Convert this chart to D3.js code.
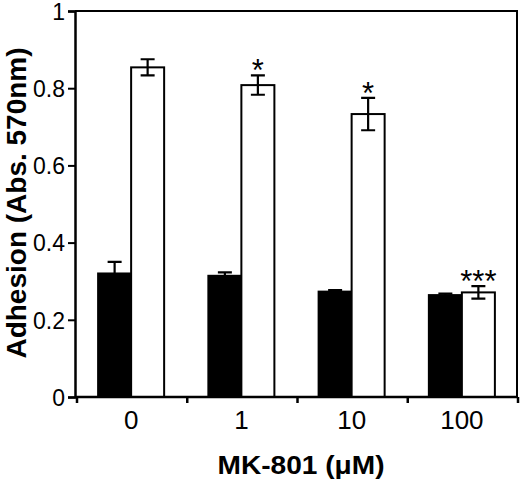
<!DOCTYPE html>
<html>
<head>
<meta charset="utf-8">
<script src="https://cdn.jsdelivr.net/npm/d3@7"></script>
<style>
html,body{margin:0;padding:0;background:#fff;}
svg{display:block;}
text{font-family:"Liberation Sans",Arial,sans-serif;fill:#000;}
</style>
</head>
<body>
<svg id="chart" width="520" height="483"></svg>
<script>
const categories = ["0", "1", "10", "100"];
const controlValues = [0.32, 0.314, 0.273, 0.264];
const controlErrors = [0.03, 0.009, 0.004, 0.004];
const treatedValues = [0.854, 0.808, 0.733, 0.271];
const treatedErrors = [0.021, 0.025, 0.042, 0.016];
const significance = ["", "*", "*", "***"];
const yTicks = [0, 0.2, 0.4, 0.6, 0.8, 1];
const yTickLabels = ["0", "0.2", "0.4", "0.6", "0.8", "1"];

const svg = d3.select("#chart");
const mLeft = 75, mRight = 517, mTop = 11, mBottom = 397;

const x = d3.scaleBand().domain(categories).range([mLeft + 1, mRight]).paddingInner(0).paddingOuter(0);
const sub = d3.scaleBand().domain(["control", "treated"]).range([0, x.bandwidth()]).paddingInner(0).paddingOuter(0.67);
const y = d3.scaleLinear().domain([0, 1]).range([mBottom, mTop]);

const rows = categories.map((c, i) => ({
  cat: c,
  bars: [
    {key: "control", v: controlValues[i], e: controlErrors[i], fill: "#000"},
    {key: "treated", v: treatedValues[i], e: treatedErrors[i], fill: "#fff"}
  ],
  sig: significance[i]
}));

// frame (top & right)
svg.append("path")
  .attr("d", `M${mLeft},${y(1)}H${mRight}V${mBottom}`)
  .attr("fill", "none").attr("stroke", "#000").attr("stroke-width", 2);

// bars
const g = svg.append("g");
const groups = g.selectAll("g.cat").data(rows).join("g")
  .attr("class", "cat")
  .attr("transform", d => `translate(${x(d.cat)},0)`);

groups.selectAll("rect").data(d => d.bars).join("rect")
  .attr("x", d => sub(d.key))
  .attr("width", sub.bandwidth())
  .attr("y", d => y(d.v))
  .attr("height", d => y(0) - y(d.v))
  .attr("fill", d => d.fill)
  .attr("stroke", "#000")
  .attr("stroke-width", 2);

// error bars
const capW = 7;
groups.selectAll("path.err").data(d => d.bars).join("path")
  .attr("class", "err")
  .attr("d", d => {
    const cx = sub(d.key) + sub.bandwidth() / 2;
    const y1 = y(d.v + d.e), y2 = y(d.v - d.e);
    return `M${cx - capW},${y1}H${cx + capW}M${cx},${y1}V${y2}M${cx - capW},${y2}H${cx + capW}`;
  })
  .attr("fill", "none")
  .attr("stroke", "#000")
  .attr("stroke-width", 2.2);

// significance stars
groups.append("text")
  .attr("x", sub("treated") + sub.bandwidth() / 2)
  .attr("y", d => y(d.bars[1].v + d.bars[1].e) + 6)
  .attr("text-anchor", "middle")
  .style("font-size", "31px")
  .text(d => d.sig);

// y axis
const yAxis = d3.axisLeft(y).tickValues(yTicks)
  .tickFormat((d, i) => yTickLabels[i]).tickSize(7).tickPadding(3);
const ya = svg.append("g").attr("transform", `translate(${mLeft},0)`).call(yAxis);
ya.select(".domain").attr("stroke-width", 2.5);
ya.selectAll(".tick line").attr("stroke-width", 2);
ya.selectAll(".tick text").style("font-size", "23px").attr("dy", "0.36em");

// x axis
const xa = svg.append("g").attr("transform", `translate(0,${mBottom})`)
  .call(d3.axisBottom(x).tickSize(0).tickPadding(14));
xa.select(".domain").attr("stroke-width", 2.5).attr("d", `M${mLeft},0H${mRight + 1}`);
xa.selectAll(".tick text").style("font-size", "26px").attr("dy", "0.71em");

// boundary ticks on x axis
const bounds = categories.map(c => x(c)).concat([mRight]);
svg.append("g").selectAll("line").data(bounds).join("line")
  .attr("x1", d => d + 1).attr("x2", d => d + 1)
  .attr("y1", mBottom).attr("y2", mBottom + 6)
  .attr("stroke", "#000").attr("stroke-width", 2.5);

// axis titles
svg.append("text")
  .attr("transform", `translate(26,${(mTop + mBottom) / 2 - 1}) rotate(-90)`)
  .attr("text-anchor", "middle")
  .style("font-size", "28px").style("font-weight", "bold")
  .text("Adhesion (Abs. 570nm)");

svg.append("text")
  .attr("x", 301).attr("y", 474)
  .attr("text-anchor", "middle")
  .attr("textLength", 167).attr("lengthAdjust", "spacingAndGlyphs")
  .style("font-size", "26px").style("font-weight", "bold")
  .text("MK-801 (μM)");
</script>
</body>
</html>
